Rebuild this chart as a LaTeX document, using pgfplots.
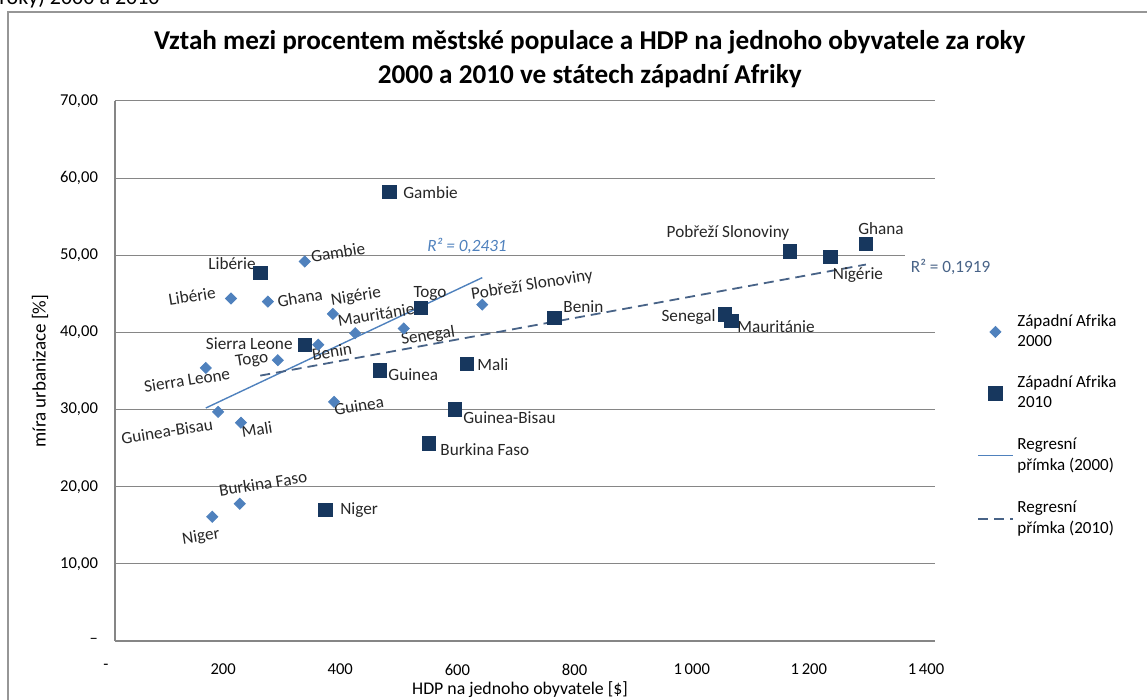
\documentclass[border=0pt]{standalone}
\usepackage{fontspec}
\setmainfont{Carlito}
\usepackage{pgfplots}
\pgfplotsset{compat=1.18}
\definecolor{c2000}{RGB}{79,129,189}
\definecolor{c2010}{RGB}{23,55,94}
\definecolor{trend10}{RGB}{72,99,135}
\definecolor{gridc}{RGB}{134,134,134}
\definecolor{framec}{RGB}{150,150,150}
\tikzset{lbl/.style={font=\fontsize{8.6}{10}\selectfont, inner sep=0pt, text=black!85}}

\begin{document}
\begin{tikzpicture}
\useasboundingbox (-57.5pt,-29.5pt) rectangle (516pt,320.5pt);
\draw[framec, line width=0.6pt] (-53.5pt,-40pt) rectangle (540pt,314.5pt);
\node[anchor=base west, font=\fontsize{11}{13}\selectfont, inner sep=0pt] at (-58pt,318pt) {roky) 2000 a 2010};
\begin{axis}[
  at={(0pt,0pt)}, anchor=south west,
  scale only axis, width=410pt, height=270pt,
  xmin=0, xmax=1400, ymin=0, ymax=70,
  clip=false,
  xtick={0,200,...,1400},
  ytick={0,10,...,70},
  xticklabels={-,200,400,600,800,1\,000,1\,200,1\,400},
  yticklabels={{--},{10,00},{20,00},{30,00},{40,00},{50,00},{60,00},{70,00}},
  major tick length=0pt,
  axis x line*=bottom, axis y line*=left,
  x axis line style={gridc, line width=1pt},
  y axis line style={gridc, line width=0.6pt},
  ymajorgrids, grid style={gridc, line width=0.5pt},
  /pgf/number format/assume math mode=true,
  xticklabel style={font=\fontsize{8.3}{10}\selectfont, yshift=-8pt, xshift=-4.5pt},
  yticklabel style={font=\fontsize{8.3}{10}\selectfont, xshift=-5pt},
  xlabel={HDP na jednoho obyvatele [\$]},
  xlabel style={at={(axis description cs:0.4939,-0.0907)}, anchor=center, font=\fontsize{8.9}{10}\selectfont},
  ylabel={míra urbanizace [\%]},
  ylabel style={at={(axis description cs:-0.0915,0.5)}, anchor=center, font=\fontsize{9.5}{11}\selectfont},
  title={Vztah mezi procentem městské populace a HDP na jednoho obyvatele za roky\\2000 a 2010 ve státech západní Afriky},
  title style={at={(axis description cs:0.579,1.0556)}, anchor=center, align=center, font=\bfseries\fontsize{13.6}{17}\selectfont},
  legend style={at={(1.044,0.62)}, anchor=north west, draw=none, fill=none,
    font=\fontsize{8.5}{10.3}\selectfont, row sep=9.5pt},
  legend cell align=left,
]
% 2000
\addplot[only marks, mark=square*, mark size=1.95pt, mark options={rotate=45, fill=c2000, draw=c2000}]
 coordinates {
 (166,16.1) (213,17.8) (176,29.7) (215,28.3) (155,35.4) (278,36.4) (347,38.4)
 (198,44.4) (261,44.0) (324,49.2) (372,42.4) (410,39.9) (493,40.5) (374,31.0) (627,43.6)
 };
\addlegendentry{\shortstack[l]{Západní Afrika\\2000}}
% 2010
\addplot[only marks, mark=square*, mark size=3.4pt, mark options={fill=c2010, draw=c2010}]
 coordinates {
 (468,58.2) (248,47.7) (522,43.2) (324,38.4) (452,35.1) (601,35.9) (580,30.0) (536,25.6)
 (359,17.0) (750,41.9) (1041,42.3) (1052,41.5) (1152,50.5) (1221,49.8) (1282,51.5)
 };
\addlegendentry{\shortstack[l]{Západní Afrika\\2010}}
\addplot[c2000, line width=0.7pt] coordinates {(155,30.2) (627,47.1)};
\addlegendentry{\shortstack[l]{Regresní\\přímka (2000)}}
\addplot[trend10, line width=0.9pt, dash pattern=on 5pt off 3pt] coordinates {(248,34.4) (1282,48.8)};
\addlegendentry{\shortstack[l]{Regresní\\přímka (2010)}}

% labels 2000
\begin{scope}[every node/.style={lbl, rotate=9}]
\node at (axis cs:146.8,13.5) {Niger};
\node at (axis cs:252.7,20.4) {Burkina Faso};
\node at (axis cs:88.8,27.2) {Guinea-Bisau};
\node at (axis cs:242.4,27.4) {Mali};
\node at (axis cs:122.9,33.8) {Sierra Leone};
\node at (axis cs:233.9,36.4) {Togo};
\node at (axis cs:370.5,37.5) {Benin};
\node at (axis cs:131.5,44.7) {Libérie};
\node at (axis cs:315.9,44.5) {Ghana};
\node at (axis cs:380.7,50.4) {Gambie};
\node at (axis cs:411.5,44.6) {Nigérie};
\node at (axis cs:445.6,42.3) {Mauritánie};
\node at (axis cs:534.4,39.5) {Senegal};
\node at (axis cs:416.6,30.5) {Guinea};
\node at (axis cs:711.9,46.1) {Pobřeží Slonoviny};
\end{scope}
% labels 2010
\node[lbl, anchor=west] at (axis cs:491.7,58.1) {Gambie};
\node[lbl] at (axis cs:199.8,48.9) {Libérie};
\node[lbl] at (axis cs:537.8,45.0) {Togo};
\node[lbl, anchor=east] at (axis cs:303.9,38.5) {Sierra Leone};
\node[lbl, anchor=west] at (axis cs:466.1,34.5) {Guinea};
\node[lbl, anchor=west] at (axis cs:618.0,35.8) {Mali};
\node[lbl, anchor=west] at (axis cs:594.1,29.0) {Guinea-Bisau};
\node[lbl, anchor=west] at (axis cs:554.9,24.8) {Burkina Faso};
\node[lbl, anchor=west] at (axis cs:384.1,17.0) {Niger};
\node[lbl, anchor=west] at (axis cs:764.9,43.3) {Benin};
\node[lbl, anchor=east] at (axis cs:1026.1,42.0) {Senegal};
\node[lbl, anchor=west] at (axis cs:1061.9,40.7) {Mauritánie};
\node[lbl] at (axis cs:1046.6,52.9) {Pobřeží Slonoviny};
\node[lbl] at (axis cs:1268.5,47.4) {Nigérie};
\node[lbl] at (axis cs:1307.8,53.4) {Ghana};
% R^2
\node[lbl, text=c2000, font=\itshape\fontsize{8.6}{10}\selectfont] at (axis cs:601,51.2) {R² = 0,2431};
\node[lbl, anchor=west, text=trend10, fill=white, inner sep=3pt] at (axis cs:1348,48.5) {R² = 0,1919};
\end{axis}
\end{tikzpicture}
\end{document}
